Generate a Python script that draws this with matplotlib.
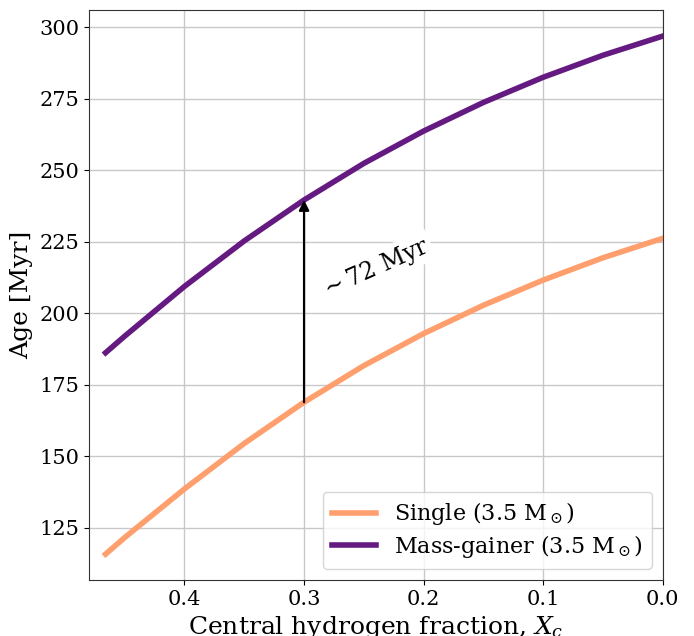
import numpy as np
import matplotlib
matplotlib.use('Agg')
import matplotlib.pyplot as plt

# central hydrogen fraction and ages (Myr)
xc = [0.466, 0.45, 0.40, 0.35, 0.30, 0.25, 0.20, 0.15, 0.10, 0.05, 0.0]
age_single = [115.8, 121.6, 138.6, 154.5, 168.9, 181.7, 192.9, 202.8, 211.6, 219.4, 226.2]
age_gainer = [186.2, 192.0, 209.4, 225.3, 239.6, 252.4, 263.7, 273.7, 282.5, 290.2, 296.9]

label_single = r'Single (3.5 M$_\odot$)'
label_gainer = r'Mass-gainer (3.5 M$_\odot$)'
x_arrow = 0.3
gap_text = r'$\sim$72 Myr'

c_single = '#fe9f6d'
c_gainer = '#641a80'

plt.rcParams['font.family'] = 'DejaVu Serif'
plt.rcParams['mathtext.fontset'] = 'dejavuserif'

fig = plt.figure(figsize=(6.94, 6.36), dpi=100)
ax = fig.add_axes([0.128, 0.088, 0.827, 0.896])

ax.plot(xc, age_single, color=c_single, lw=4, label=label_single,
        solid_joinstyle='round')
ax.plot(xc, age_gainer, color=c_gainer, lw=4, label=label_gainer,
        solid_joinstyle='round')

y0 = age_single[xc.index(x_arrow)]
y1 = age_gainer[xc.index(x_arrow)]
ax.annotate('', xy=(x_arrow, y1), xytext=(x_arrow, y0),
            arrowprops=dict(arrowstyle='-|>', color='black', lw=1.6,
                            mutation_scale=15, shrinkA=0, shrinkB=0))
ax.text(0.241, 215.6, gap_text, rotation=24, fontsize=17,
        ha='center', va='center',
        bbox=dict(facecolor='white', edgecolor='none', pad=2))

ax.set_xlim(0.48, 0.0)
ax.grid(True, color='#c8c8c8', lw=1)
ax.set_axisbelow(True)
ax.tick_params(labelsize=15)
ax.set_xlabel(r'Central hydrogen fraction, $X_c$', fontsize=18)
ax.set_ylabel('Age [Myr]', fontsize=18)
for s in ax.spines.values():
    s.set_color('#333333')

ax.legend(loc='lower right', fontsize=16, labelspacing=0.25)

fig.savefig('out.png', dpi=100)
